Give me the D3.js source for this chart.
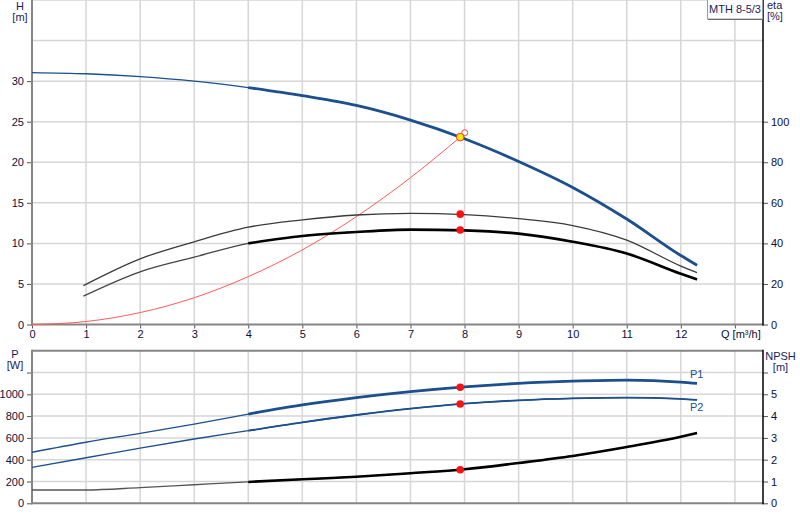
<!DOCTYPE html>
<html><head><meta charset="utf-8">
<script src="https://cdn.jsdelivr.net/npm/d3@7"></script>
<style>body{margin:0;background:#fff}svg{display:block;font-family:"Liberation Sans",Arial,sans-serif}</style>
</head><body><svg id="c" width="800" height="520"></svg>
<script>
// ---- data ----
const qTicks = [0,1,2,3,4,5,6,7,8,9,10,11,12];
const qGrid = [1,2,3,4,5,6,7,8,9,10,11,12,13];
const hTicks = [0,5,10,15,20,25,30];
const etaTicks = [0,20,40,60,80,100];
const pTicks = [0,200,400,600,800,1000,1200];
const npshTicks = [0,1,2,3,4,5,6];

const qH = [0,1,2,3,4,5,6,7,8,9,10,11,12,12.3];
const headH = [31.05,30.9,30.55,30.0,29.2,28.2,27.0,25.2,22.9,20.1,16.9,13.0,8.5,7.3];

const qEta = [0.95,2,3,4,5,6,7,8,9,10,11,12,12.3];
const etaUpper = [19.2,32.4,40.8,48.0,51.6,54.0,54.8,54.2,52.2,48.8,41.6,28.8,25.6];
const etaLower = [14.0,26.0,33.2,40.0,43.6,45.6,46.8,46.4,44.8,40.8,35.0,25.0,22.2];

const qSys = [0,1,2,3,4,5,6,7,7.92];
const hSys = [0,0.37,1.47,3.3,5.9,9.2,13.3,18.1,23.1];

const qP = [0,1,2,3,4,5,6,7,8,9,10,11,12,12.3];
const p1 = [468,560,642,727,819,902,969,1024,1068,1100,1120,1130,1112,1100];
const p2 = [330,418,507,590,666,743,810,868,914,945,963,970,958,948];
const npsh = [0.61,0.61,0.72,0.85,0.98,1.10,1.22,1.38,1.56,1.85,2.17,2.58,3.05,3.22];

const dutyQ = 7.92, dutyH = 23.1, dutyEtaU = 54.4, dutyEtaL = 46.6;
const dutyP1 = 1064, dutyP2 = 911, dutyNpsh = 1.54;
const legendText = "MTH 8-5/3";
const opStart = 4;

// ---- scales ----
const svg = d3.select("#c");
const X0 = 32, X1 = 763;
const x = d3.scaleLinear().domain([0,13.52]).range([X0,X1]);
const yH = d3.scaleLinear().domain([0,40]).range([324.5,0]);
const yEta = d3.scaleLinear().domain([0,160]).range([324.5,0]);
const yP = d3.scaleLinear().domain([0,1400]).range([503.3,350.7]);
const yN = d3.scaleLinear().domain([0,7]).range([503.3,350.7]);

const gridC = "#d6d6d6", axisC = "#858585", txtC = "#0c0c3a", titleC = "#1a1a5e", blue = "#1b4f8e";

// grids
function grid(yScale, vals, top, bottom){
  const g = svg.append("g");
  g.selectAll("line.v").data(qGrid).join("line")
    .attr("x1",d=>x(d)).attr("x2",d=>x(d)).attr("y1",top).attr("y2",bottom)
    .attr("stroke",gridC).attr("stroke-width",1.5);
  g.selectAll("line.h").data(vals).join("line")
    .attr("x1",X0).attr("x2",X1).attr("y1",d=>yScale(d)).attr("y2",d=>yScale(d))
    .attr("stroke",gridC).attr("stroke-width",1.5);
}
grid(yH, [5,10,15,20,25,30,35,40], 0, 324.5);
grid(yP, [200,400,600,800,1000,1200], 350.7, 503.3);

// axes
const fmt = d3.format("d");
svg.append("g").attr("transform",`translate(${X0},0)`)
  .call(d3.axisLeft(yH).tickValues(hTicks).tickSize(5).tickPadding(3).tickFormat(fmt));
svg.append("g").attr("transform",`translate(${X1},0)`)
  .call(d3.axisRight(yEta).tickValues(etaTicks).tickSize(5).tickPadding(3).tickFormat(fmt));
svg.append("g").attr("transform",`translate(0,324.5)`)
  .call(d3.axisBottom(x).tickValues(qGrid.concat([0])).tickSize(4).tickPadding(2)
    .tickFormat(d=> qTicks.includes(d) ? fmt(d) : ""));
svg.append("g").attr("transform",`translate(${X0},0)`)
  .call(d3.axisLeft(yP).tickValues(pTicks).tickSize(5).tickPadding(3).tickFormat(d=> d===1200?"":fmt(d)));
svg.append("g").attr("transform",`translate(${X1},0)`)
  .call(d3.axisRight(yN).tickValues(npshTicks).tickSize(5).tickPadding(3).tickFormat(d=> d===6?"":fmt(d)));
svg.append("g").attr("transform",`translate(0,503.3)`)
  .call(d3.axisBottom(x).tickValues([]).tickSize(0));
svg.selectAll(".domain").remove();
svg.selectAll(".tick text").attr("font-size",11).attr("fill",txtC).attr("font-family","Liberation Sans, Arial, sans-serif");
svg.selectAll(".tick line").attr("stroke","#555");

// frame lines
function ln(x1,y1,x2,y2,c,w){svg.append("line").attr("x1",x1).attr("y1",y1).attr("x2",x2).attr("y2",y2).attr("stroke",c).attr("stroke-width",w);}
ln(X0,0,X0,325.5,axisC,2);
ln(X0-1,324.5,X1,324.5,axisC,2);
ln(X1,0,X1,325.5,"#000",1.5);
ln(X0,350.7,X1,350.7,axisC,2);
ln(X0,349.7,X0,504.3,axisC,2);
ln(X0-1,503.3,X1,503.3,axisC,2);
ln(X1,349.7,X1,504.3,"#000",1.5);

// titles
function t(txt,xx,yy,anchor,col){svg.append("text").attr("x",xx).attr("y",yy).attr("text-anchor",anchor||"start").attr("font-size",11).attr("fill",col||titleC).text(txt);}
t("H",20,10,"middle"); t("[m]",20,21,"middle");
t("eta",767,9); t("[%]",767,20);
t("P",15,358,"middle"); t("[W]",15,369,"middle");
t("NPSH",780.5,360,"middle"); t("[m]",780.5,371,"middle");
t("Q [m³/h]",721,338,"start",txtC);

// legend box
svg.append("rect").attr("x",707.5).attr("y",-1).attr("width",55).attr("height",20).attr("fill","#fff").attr("stroke","#9a9a9a");
ln(708,19.5,763,19.5,"#6a6a6a",1);
svg.append("text").attr("x",735).attr("y",13).attr("text-anchor","middle").attr("font-size",11).attr("fill",titleC).text(legendText);

// curves
function curve(qs, vs, ys, col, w, from){
  const pts = qs.map((q,i)=>[q,vs[i]]).filter(d=> from===undefined || d[0]>=from);
  svg.append("path").datum(pts)
    .attr("d", d3.line().x(d=>x(d[0])).y(d=>ys(d[1])).curve(d3.curveMonotoneX))
    .attr("fill","none").attr("stroke",col).attr("stroke-width",w)
    .attr("stroke-linejoin","round").attr("stroke-linecap","butt");
}
// system curve
curve(qSys, hSys, yH, "#ff5a5a", 1, undefined);
// head
curve(qH, headH, yH, blue, 1.4);
curve(qH, headH, yH, blue, 2.8, opStart);
// efficiencies
curve(qEta, etaUpper, yEta, "#3a3a3a", 1.3);
curve(qEta, etaLower, yEta, "#444", 1.3);
curve(qEta, etaLower, yEta, "#000", 2.6, opStart);
// power
curve(qP, p1, yP, blue, 1.3);
curve(qP, p1, yP, blue, 2.8, opStart);
curve(qP, p2, yP, blue, 1.3);
curve(qP, p2, yP, blue, 1.8, opStart);
// npsh
curve(qP, npsh, yN, "#555", 1.3);
curve(qP, npsh, yN, "#000", 2.6, opStart);

// duty point markers
function dot(cx,cy,r,fill,stroke,sw){svg.append("circle").attr("cx",cx).attr("cy",cy).attr("r",r).attr("fill",fill).attr("stroke",stroke||"none").attr("stroke-width",sw||0);}
dot(x(dutyQ), yEta(dutyEtaU), 3.8, "#ff1010");
dot(x(dutyQ), yEta(dutyEtaL), 3.8, "#ff1010");
dot(x(dutyQ), yP(dutyP1), 3.8, "#ff1010");
dot(x(dutyQ), yP(dutyP2), 3.8, "#ff1010");
dot(x(dutyQ), yN(dutyNpsh), 3.8, "#ff1010");
dot(x(dutyQ)+4.5, yH(dutyH)-4.4, 3, "#fff", "#ff4040", 1);
dot(x(dutyQ), yH(dutyH), 3.8, "#ffe600", "#ff3030", 1);

// P labels
svg.append("text").attr("x",690).attr("y",378).attr("font-size",11).attr("fill",blue).text("P1");
svg.append("text").attr("x",690).attr("y",411).attr("font-size",11).attr("fill",blue).text("P2");
</script></body></html>
